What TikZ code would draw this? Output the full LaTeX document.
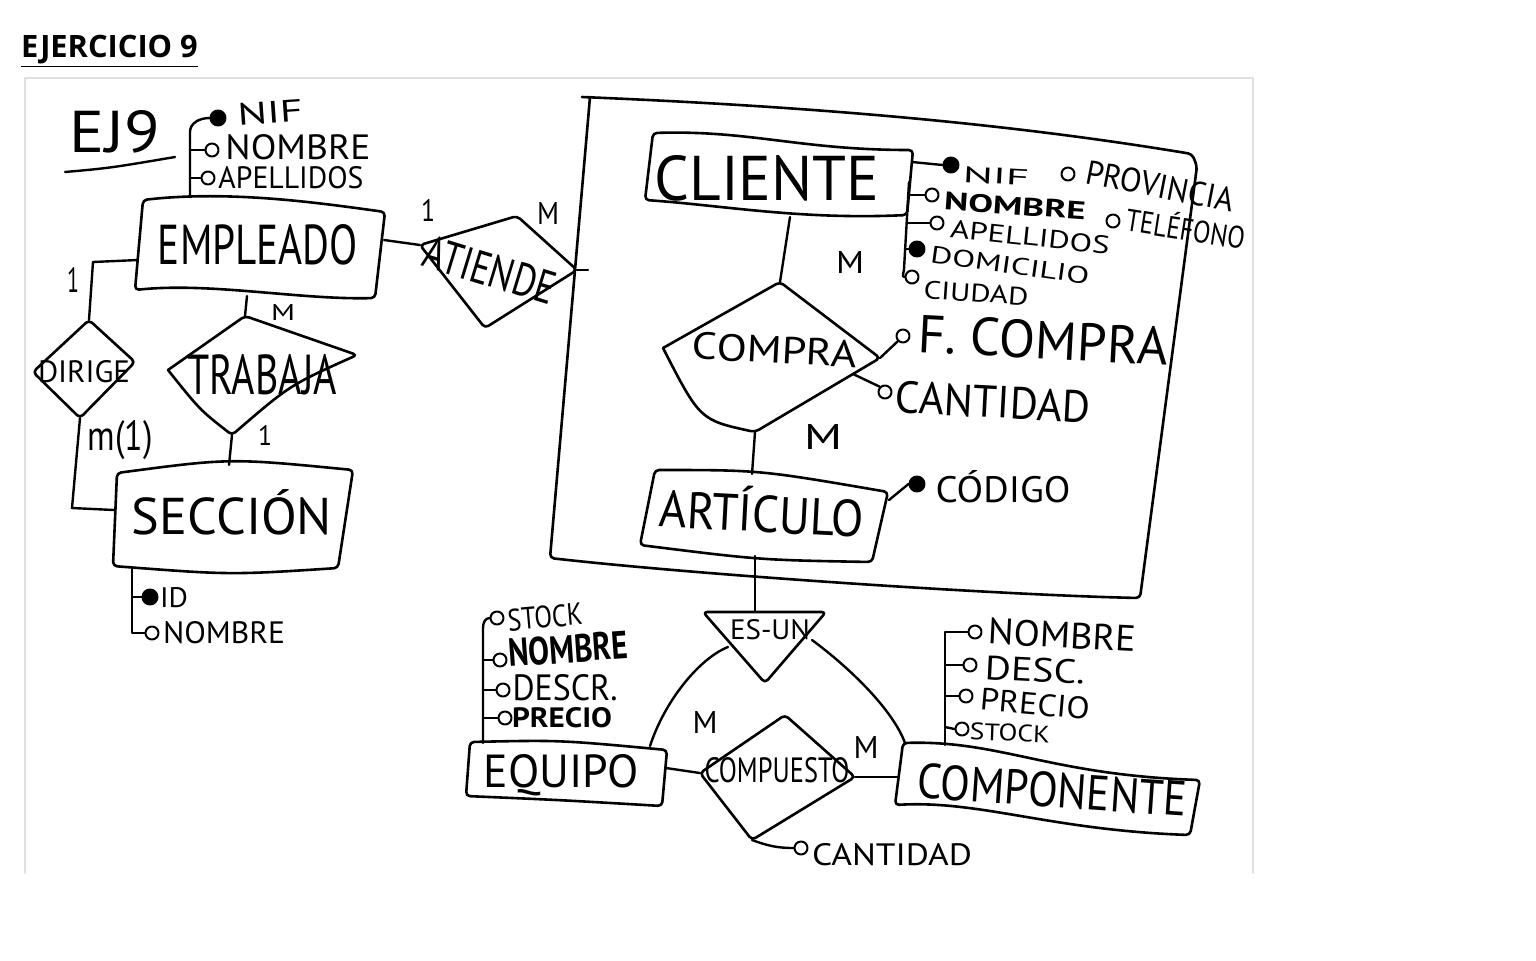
\documentclass[tikz,border=0pt]{standalone}
\usepackage{fontspec}
\usepackage{graphicx}
\setmainfont{PT Sans}
\newfontfamily\titlefont{Open Sans}
\newlength\pxu \setlength\pxu{0.5pt}
\newcommand\fitt[3]{\resizebox{#1\pxu}{#2\pxu}{#3}}
\begin{document}
\begin{tikzpicture}[x=0.5pt,y=-0.5pt,line width=1.2pt,line join=round,line cap=round,
  hand/.style={inner sep=0pt,anchor=center},
  att/.style={circle,draw,line width=1pt,inner sep=0pt,minimum size=6.5pt},
  keyatt/.style={att,fill=black,minimum size=7.5pt},
  ershape/.style={draw,line width=1.3pt,rounded corners=2pt},
  conn/.style={draw,line width=1.2pt}]
\useasboundingbox (0,0) rectangle (1536,960);
% title and frame
\node[anchor=base west,inner sep=0pt] (title) at (20,57) {\titlefont\bfseries\fontsize{15.4}{18}\selectfont\underline{EJERCICIO 9}};
\draw[black!12,line width=0.8pt] (25,873) -- (25,78) -- (1253,78) -- (1253,873);

% EJ9
\node[hand] (ej) at (115,132) {\fitt{90}{42}{EJ9}};
\draw (65,172) .. controls (110,168) .. (175,157);

% ---------- EMPLEADO ----------
\coordinate (E1) at (143,200); \coordinate (E2) at (385,212);
\coordinate (E3) at (375,298); \coordinate (E4) at (135,290);
\draw[ershape] (E1) .. controls (230,190) and (320,203) .. (E2) -- (E3) .. controls (300,300) and (210,282) .. (E4) -- cycle;
\node[hand] (empleado) at (258,245) {\fitt{200}{40}{EMPLEADO}};
\coordinate (Eleft) at (138,260); \coordinate (Eright) at (384,240);
\coordinate (Ebot) at (247,296); \coordinate (Etop) at (190,196);
% attributes
\node[keyatt] (enif) at (218,118) {};
\node[hand,rotate=4] at (270,112) {\fitt{65}{22}{NIF}};
\node[att] (enom) at (212,150) {};
\node[hand] at (298,147) {\fitt{145}{25}{NOMBRE}};
\node[att] (eape) at (208,178) {};
\node[hand] at (291,178) {\fitt{145}{22}{APELLIDOS}};
\draw (Etop) -- (190,132) to[out=90,in=180] (enif.west);
\draw (190,150) -- (enom.west);
\draw (190,178) -- (eape.west);

% ---------- ATIENDE ----------
\coordinate (Al) at (420,245); \coordinate (At) at (517,216);
\coordinate (Ar) at (577,270); \coordinate (Ab) at (485,328);
\draw[ershape] (Al) -- (At) -- (Ar) -- (Ab) -- cycle;
\node[hand,rotate=-17] (atiende) at (490,270) {\fitt{135}{33}{ATIENDE}};
\draw[conn] (Eright) -- (Al);
\coordinate (aggl) at (588,270);
\draw[conn] (Ar) -- (aggl);
\node[hand] at (428,210) {\fitt{14}{22}{1}};
\node[hand] at (548,213) {\fitt{22}{22}{M}};

% ---------- aggregation box ----------
\draw[ershape] (582,97) .. controls (800,106) and (1000,122) .. (1192,154) -- (1197,166) -- (1140,598) .. controls (1000,595) and (700,575) .. (550,558) -- (590,97);

% ---------- CLIENTE ----------
\coordinate (C1) at (653,133); \coordinate (C2) at (913,150);
\coordinate (C3) at (907,215); \coordinate (C4) at (645,200);
\draw[ershape] (C1) .. controls (750,130) and (800,150) .. (C2) -- (C3) .. controls (800,220) and (720,205) .. (C4) -- cycle;
\node[hand] (cliente) at (767,178) {\fitt{225}{45}{CLIENTE}};
\coordinate (Cbot) at (790,217); \coordinate (Cr) at (912,162);
\node[keyatt] (cnif) at (951,165) {};
\node[hand,rotate=-3] at (996,176) {\fitt{66}{16}{NIF}};
\node[att] (cprov) at (1068,174) {};
\node[hand,rotate=-11] at (1160,186) {\fitt{150}{24}{PROVINCIA}};
\node[att] (cnom) at (932,195) {};
\node[hand,rotate=-4] at (1015,206) {\fitt{142}{18}{\bfseries NOMBRE}};
\node[att] (ctel) at (1113,221) {};
\node[hand,rotate=-9] at (1186,227) {\fitt{120}{27}{TELÉFONO}};
\node[att] (cape) at (937,223) {};
\node[hand,rotate=-6] at (1030,237) {\fitt{160}{18}{APELLIDOS}};
\node[keyatt] (cdom) at (917,249) {};
\node[hand,rotate=-8] at (1010,265) {\fitt{160}{17}{DOMICILIO}};
\node[att] (cciu) at (912,277) {};
\node[hand,rotate=-4] at (976,293) {\fitt{105}{18}{CIUDAD}};
\draw (Cr) -- (cnif.west);
\draw (909,182) -- (904,269) to[out=-90,in=180] (cciu.west);
\draw (908,195) -- (cnom.west);
\draw (907,223) -- (cape.west);
\draw (905,249) -- (cdom.west);
\node[hand] at (850,262) {\fitt{28}{22}{M}};

% ---------- COMPRA ----------
\coordinate (Pt) at (780,282); \coordinate (Pr) at (880,358);
\coordinate (Pb) at (755,432); \coordinate (Pl) at (663,348);
\draw[ershape] (Pl) .. controls (720,315) .. (Pt) -- (Pr) -- (Pb) .. controls (700,420) .. (Pl);
\node[hand,rotate=-3] (compra) at (775,350) {\fitt{165}{27}{COMPRA}};
\draw[conn] (Cbot) -- (Pt);
\node[att] (cfc) at (903,336) {};
\node[hand,rotate=-3] at (1043,340) {\fitt{250}{38}{F. COMPRA}};
\draw (Pr) -- (cfc.south west);
\coordinate (Pe) at (853,374);
\node[att] (ccan) at (885,392) {};
\node[hand,rotate=-3] at (993,402) {\fitt{195}{32}{CANTIDAD}};
\draw (Pe) -- (ccan.north west);
\node[hand] at (823,437) {\fitt{38}{25}{M}};

% ---------- ARTICULO ----------
\coordinate (R1) at (655,470); \coordinate (R2) at (888,492);
\coordinate (R3) at (872,562); \coordinate (R4) at (640,545);
\draw[ershape] (R1) .. controls (760,470) .. (R2) -- (R3) .. controls (760,560) .. (R4) -- cycle;
\node[hand,rotate=-3] (articulo) at (762,510) {\fitt{205}{45}{ARTÍCULO}};
\coordinate (Rtop) at (752,474); \coordinate (Rbot) at (755,556);
\coordinate (Rr) at (889,500);
\draw[conn] (Pb) -- (Rtop);
\node[keyatt] (acod) at (917,484) {};
\node[hand] at (1003,487) {\fitt{135}{32}{CÓDIGO}};
\draw (Rr) -- (acod.west);

% ---------- ES-UN ----------
\coordinate (T1) at (703,612); \coordinate (T2) at (826,612); \coordinate (T3) at (765,683);
\draw[ershape] (T1) -- (T2) -- (T3) -- cycle;
\node[hand] (esun) at (770,630) {\fitt{80}{20}{ES-UN}};
\coordinate (Ttop) at (755,612);
\draw[conn] (Rbot) -- (Ttop);
\coordinate (Tl) at (728,647); \coordinate (Tr) at (812,640);

% ---------- EQUIPO ----------
\coordinate (Q1) at (470,742); \coordinate (Q2) at (667,750);
\coordinate (Q3) at (662,806); \coordinate (Q4) at (466,796);
\draw[ershape] (Q1) .. controls (560,740) .. (Q2) -- (Q3) .. controls (560,800) .. (Q4) -- cycle;
\node[hand] (equipo) at (561,775) {\fitt{155}{33}{EQUIPO}};
\coordinate (Qr) at (666,768); \coordinate (Qt) at (650,746);
\draw[conn] (Tl) .. controls (700,658) and (665,700) .. (Qt);
\node[att] (qsto) at (497,618) {};
\node[hand,rotate=5] at (545,617) {\fitt{75}{22}{STOCK}};
\node[att] (qnom) at (500,660) {};
\node[hand,rotate=4] at (568,649) {\fitt{120}{28}{\bfseries NOMBRE}};
\node[att] (qdes) at (503,690) {};
\node[hand] at (565,688) {\fitt{105}{26}{DESCR.}};
\node[att] (qpre) at (505,718) {};
\node[hand] at (562,718) {\fitt{100}{20}{\bfseries PRECIO}};
\draw (483,743) -- (483,628) to[out=90,in=180] (qsto.west);
\draw (483,660) -- (qnom.west);
\draw (483,690) -- (qdes.west);
\draw (483,718) -- (qpre.west);

% ---------- COMPUESTO ----------
\coordinate (Dl) at (700,773); \coordinate (Dt) at (785,715);
\coordinate (Dr) at (855,777); \coordinate (Db) at (752,840);
\draw[ershape] (Dl) -- (Dt) -- (Dr) -- (Db) -- cycle;
\node[hand] (compuesto) at (777,770) {\fitt{145}{25}{COMPUESTO}};
\coordinate (Kl) at (898,777);
\draw[conn] (Qr) -- (Dl);
\draw[conn] (Dr) -- (Kl);
\node[hand] at (705,722) {\fitt{25}{22}{M}};
\node[hand] at (866,747) {\fitt{25}{22}{M}};
\node[att] (dcan) at (801,848) {};
\node[hand] at (892,855) {\fitt{160}{22}{CANTIDAD}};
\draw (Db) to[out=-20,in=180] (dcan.west);

% ---------- COMPONENTE ----------
\coordinate (K1) at (903,743); \coordinate (K2) at (1200,780);
\coordinate (K3) at (1190,835); \coordinate (K4) at (895,805);
\draw[ershape] (K1) .. controls (1000,740) and (1050,775) .. (K2) -- (K3) .. controls (1050,830) and (980,800) .. (K4) -- cycle;
\node[hand,rotate=-4] (componente) at (1052,790) {\fitt{270}{35}{COMPONENTE}};
\coordinate (Kt) at (905,743);
\draw[conn] (Tr) .. controls (850,668) and (893,710) .. (Kt);
\node[att] (knom) at (975,632) {};
\node[hand,rotate=-3] at (1062,635) {\fitt{148}{26}{NOMBRE}};
\node[att] (kdes) at (970,665) {};
\node[hand,rotate=-3] at (1035,670) {\fitt{100}{24}{DESC.}};
\node[att] (kpre) at (966,696) {};
\node[hand,rotate=-5] at (1035,704) {\fitt{110}{22}{PRECIO}};
\node[att] (ksto) at (962,729) {};
\node[hand,rotate=-2] at (1010,733) {\fitt{80}{17}{STOCK}};
\draw (945,745) -- (945,632) -- (knom.west);
\draw (945,665) -- (kdes.west);
\draw (945,696) -- (kpre.west);
\draw (945,727) -- (ksto.west);

% ---------- DIRIGE ----------
\coordinate (Gt) at (89,320); \coordinate (Gr) at (135,362);
\coordinate (Gb) at (80,418); \coordinate (Gl) at (33,372);
\draw[ershape] (Gt) -- (Gr) -- (Gb) -- (Gl) -- cycle;
\node[hand] (dirige) at (84,372) {\fitt{92}{22}{DIRIGE}};
\coordinate (Sl) at (114,510);
\draw[conn] (Gt) -- (93,262) -- (Eleft);
\draw[conn] (Gb) -- (72,508) -- (Sl);
\node[hand] at (73,280) {\fitt{12}{25}{1}};
\node[hand] at (120,440) {\fitt{65}{30}{m(1)}};

% ---------- TRABAJA ----------
\coordinate (Bt) at (245,316); \coordinate (Br) at (357,355);
\coordinate (Bb) at (232,435); \coordinate (Bl) at (168,370);
\draw[ershape] (Bl) -- (Bt) -- (Br) .. controls (290,385) .. (Bb) .. controls (200,410) .. (Bl);
\node[hand] (trabaja) at (262,375) {\fitt{150}{40}{TRABAJA}};
\coordinate (St) at (229,465);
\draw[conn] (Ebot) -- (Bt);
\draw[conn] (Bb) -- (St);
\node[hand] at (283,312) {\fitt{24}{16}{M}};
\node[hand] at (265,435) {\fitt{14}{20}{1}};

% ---------- SECCION ----------
\coordinate (S1) at (117,473); \coordinate (S2) at (353,470);
\coordinate (S3) at (338,568); \coordinate (S4) at (113,566);
\draw[ershape] (S1) .. controls (230,458) .. (S2) -- (S3) .. controls (230,575) .. (S4) -- cycle;
\node[hand] (seccion) at (232,512) {\fitt{200}{45}{SECCIÓN}};
\node[keyatt] (sid) at (150,597) {};
\node[hand] at (174,598) {\fitt{28}{20}{ID}};
\node[att] (snom) at (152,633) {};
\node[hand] at (224,633) {\fitt{122}{22}{NOMBRE}};
\draw (132,568) -- (132,633) -- (snom.west);
\draw (132,597) -- (sid.west);
\end{tikzpicture}
\end{document}
